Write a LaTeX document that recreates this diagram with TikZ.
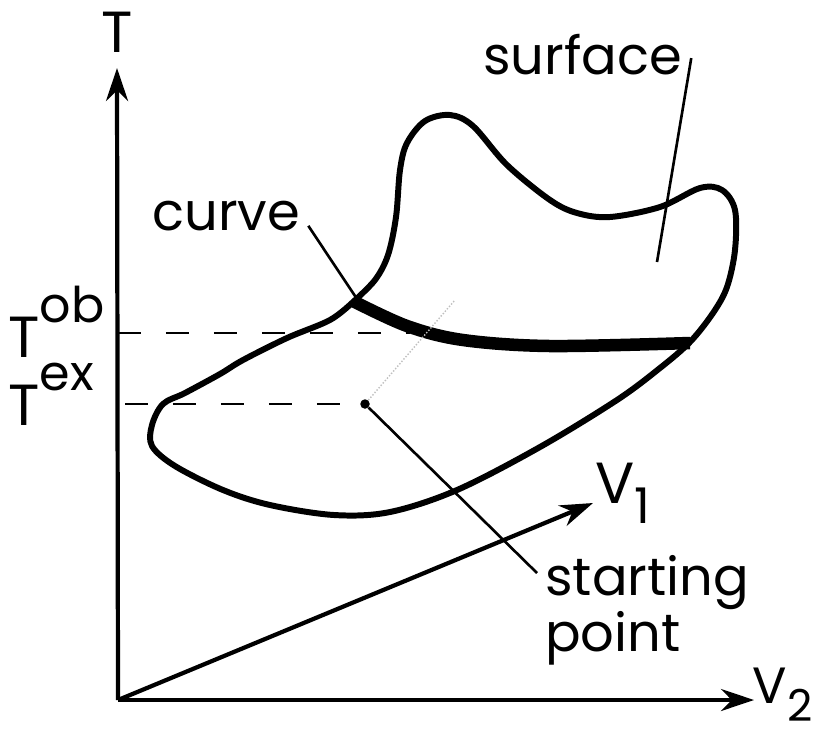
\documentclass[tikz,border=0pt]{standalone}
\usepackage{fontspec}
\setmainfont{Poppins}
\usetikzlibrary{arrows.meta}
\tikzset{
  axis/.style={line width=2.4pt, -{Stealth[length=0.66cm,width=0.44cm]}},
  rim/.style={line width=3.4pt, line join=round},
  band/.style={line width=0.25cm},
  leader/.style={line width=1.5pt},
  level/.style={line width=1.3pt, dash pattern=on 0.46cm off 0.5cm},
  lettering/.style={inner sep=0pt, font=\fontsize{30}{26}\selectfont},
  capletter/.style={inner sep=0pt, font=\fontsize{33}{33}\selectfont},
}
\newcommand{\idx}[1]{{\fontsize{28}{28}\selectfont #1}}
\begin{document}
\begin{tikzpicture}[x=0.02cm, y=-0.02cm]
\useasboundingbox (0,0) rectangle (817,738);
\coordinate (origin) at (118,700);
\coordinate (ttip) at (117,68);
\coordinate (v2tip) at (754,700);
\coordinate (v1tip) at (593,503);
\draw[axis] (origin) -- (ttip);
\draw[axis] (origin) -- (v2tip);
\draw[axis] (origin) -- (v1tip);
\node[capletter, anchor=base] (tname) at (117,52) {T};
\node[inner sep=0pt, font=\fontsize{29}{29}\selectfont, anchor=base east] (v2name) at (813,703) {V\raisebox{-0.36em}{\fontsize{25}{25}\selectfont 2}};
\node[capletter, anchor=base west] (v1name) at (595,503) {V\raisebox{-0.35em}{\idx{1}}};
\node[capletter, anchor=base west] (toblabel) at (8,357) {T\raisebox{0.6em}{\idx{ob}}};
\node[capletter, anchor=base west] (texlabel) at (8,425) {T\raisebox{0.6em}{\idx{ex}}};
\draw[rim] plot[smooth, tension=0.55] coordinates {(353,302) (375,280) (388,255) (396,217) (400,170) (407,143) (425,121) (450,115) (473,126) (507,165) (550,200) (577,213) (610,217) (660,207) (700,188) (722,190) (735,210) (735,250) (727,287) (713,313) (690,342) (660,368) (617,400) (540,447) (457,490) (390,512) (334,515) (270,505) (223,490) (175,466) (152,446) (152,425) (163,404) (185,393) (220,374) (243,360) (287,338) (330,320) (353,302)};
\draw[band] plot[smooth, tension=0.55] coordinates {(353,301) (407,326) (463,340) (550,346) (690,343)};
\coordinate (obaxis) at (118,333);
\coordinate (obpt) at (410,333);
\coordinate (exaxis) at (125,404);
\node[circle, fill, inner sep=0pt, minimum size=0.19cm] (start) at (365,404) {};
\coordinate (faint) at (455,300);
\draw[level] (obaxis) -- (obpt);
\draw[level] (exaxis) -- (start);
\draw[gray!50, densely dotted, line width=0.8pt] (start) -- (faint);
\node[lettering, anchor=base west] (curvelabel) at (152,230) {curve};
\node[lettering, anchor=base west] (surfacelabel) at (483,74) {surface};
\node[lettering, anchor=north west, align=left] (startlabel) at (545,555) {starting\\point};
\coordinate (crossing) at (357,299);
\coordinate (surfacept) at (657,262);
\draw[leader] ([shift={(8,-5)}]curvelabel.south east) -- (crossing);
\draw[leader] ([shift={(9,4)}]surfacelabel.east) -- (surfacept);
\draw[leader] (start) -- ([shift={(-8,18)}]startlabel.north west);
\end{tikzpicture}
\end{document}
